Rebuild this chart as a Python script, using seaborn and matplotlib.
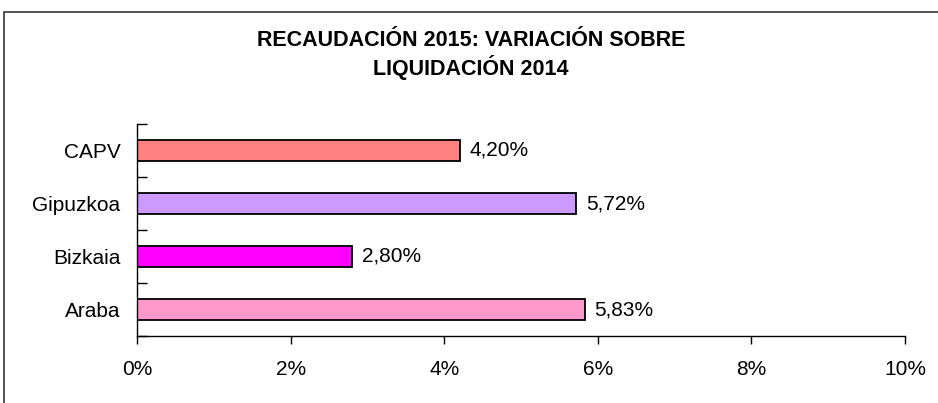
import numpy as np
import pandas as pd
import seaborn as sns
import matplotlib.pyplot as plt
from matplotlib.patches import Rectangle
from matplotlib.ticker import FuncFormatter

categories = ["CAPV", "Gipuzkoa", "Bizkaia", "Araba"]
values = [4.20, 5.72, 2.80, 5.83]
colors = ["#FF8080", "#CC99FF", "#FF00FF", "#FF99CC"]
title = "RECAUDACIÓN 2015: VARIACIÓN SOBRE\nLIQUIDACIÓN 2014"
xticks = [0, 2, 4, 6, 8, 10]

sns.set_style("white")
plt.rcParams['font.family'] = ['Liberation Sans', 'DejaVu Sans']
plt.rcParams['text.color'] = 'black'
plt.rcParams['xtick.color'] = 'black'
plt.rcParams['ytick.color'] = 'black'

df = pd.DataFrame({"region": categories, "value": values})

fig = plt.figure(figsize=(9.38, 4.03), dpi=100)
ax = fig.add_axes([137/938, 1 - 336/403, (905 - 137)/938, (336 - 124)/403])

sns.barplot(data=df, x="value", y="region", hue="region", palette=colors,
            order=categories, hue_order=categories, orient="h", width=0.4,
            edgecolor="black", linewidth=1.3, legend=False, ax=ax, saturation=1)

for cont in ax.containers:
    ax.bar_label(cont, labels=[("%.2f%%" % v).replace(".", ",") for v in cont.datavalues],
                 padding=7, fontsize=15, color="black")

ax.set_xlim(0, 10)
ax.set_ylim(len(categories) - 0.5, -0.5)
ax.set_xticks(xticks)
ax.xaxis.set_major_formatter(FuncFormatter(lambda v, p: "%d%%" % v))
ax.tick_params(axis="x", direction="out", length=6, width=1, color="black",
               labelsize=15, pad=11, bottom=True)
ax.set_yticks(np.arange(len(categories) + 1) - 0.5, minor=True)
ax.tick_params(axis="y", which="minor", direction="in", length=7, width=1,
               color="black", left=True)
ax.tick_params(axis="y", which="major", length=0, labelsize=15, pad=12)
ax.set_xlabel("")
ax.set_ylabel("")
for s in ["top", "right"]:
    ax.spines[s].set_visible(False)
for s in ["left", "bottom"]:
    ax.spines[s].set_color("black")
    ax.spines[s].set_linewidth(1)

fig.text(0.502, 1 - 55/403, title, ha="center", va="center", fontsize=15.5,
         fontweight="bold", linespacing=1.15, color="black")

fig.patches.append(Rectangle((4/938, -0.2), 1.2, 1 - 12/403 + 0.2, transform=fig.transFigure,
                             fill=False, edgecolor="#333333", linewidth=1.2))

fig.savefig("out.png", dpi=100)
